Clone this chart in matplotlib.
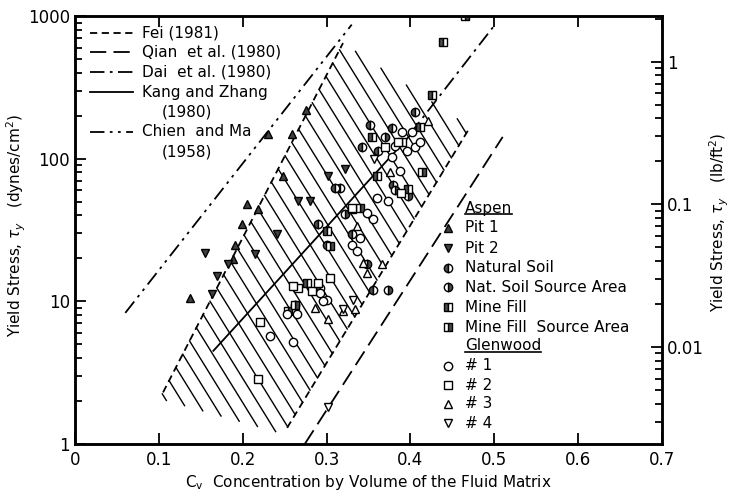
import numpy as np
import matplotlib.pyplot as plt
from matplotlib.lines import Line2D

# reference lines (Cv, yield stress in dynes/cm2)
chien_x = [0.06, 0.33]
chien_y = [8.3, 870]
dai_x = [0.40, 0.4985]
dai_y = [150, 835]
kang_x = [0.165, 0.41]
kang_y = [4.5, 170]
qian_x = [0.274, 0.51]
qian_y = [1.0, 142]
fei_upper_x = [0.105, 0.3196]
fei_upper_y = [2.3, 646]
fei_lower_x = [0.253, 0.471]
fei_lower_y = [1.3, 166]

# Aspen samples
pit1_x = [0.137, 0.188, 0.199, 0.205, 0.218, 0.230, 0.259, 0.248, 0.275, 0.191]
pit1_y = [10.5, 19.8, 34.8, 48, 44.5, 150, 150, 76, 218, 25]
pit2_x = [0.155, 0.163, 0.169, 0.182, 0.215, 0.241, 0.266, 0.280, 0.302, 0.322]
pit2_y = [21.7, 11.2, 15, 18.2, 21.4, 29.6, 50.6, 50.6, 76, 85]
soil_x = [0.352, 0.378, 0.405, 0.342, 0.316, 0.355, 0.310, 0.290, 0.300, 0.292, 0.330, 0.361, 0.379]
soil_y = [171, 163, 211, 120, 62.5, 12, 62.5, 34.8, 25, 12.4, 29.6, 114, 65]
soil_sa_x = [0.373, 0.370, 0.382, 0.397, 0.322, 0.262, 0.348]
soil_sa_y = [12, 143, 60, 55, 41, 9.5, 18.2]
fill_x = [0.439, 0.426, 0.411, 0.397, 0.354, 0.330, 0.277, 0.300, 0.390, 0.360]
fill_y = [656, 278, 166, 61.5, 142, 44.5, 13.4, 31.1, 130, 75]
fill_sa_x = [0.465, 0.414, 0.304, 0.262, 0.254, 0.340]
fill_sa_y = [1000, 80, 24.4, 9.5, 8.5, 45]

# Glenwood samples
g1_x = [0.233, 0.260, 0.253, 0.265, 0.382, 0.396, 0.378, 0.388, 0.402, 0.390,
        0.360, 0.355, 0.348, 0.373, 0.340, 0.330, 0.336, 0.300, 0.292, 0.296, 0.405, 0.411]
g1_y = [5.7, 5.2, 8.2, 8.1, 123, 114, 102, 82, 153, 153,
        53, 37.8, 41.7, 50.6, 27.8, 25, 22.5, 10.3, 11.4, 10, 120, 130]
g2_x = [0.221, 0.218, 0.266, 0.260, 0.283, 0.304, 0.370, 0.385, 0.330, 0.389, 0.290]
g2_y = [7.2, 2.87, 12.4, 12.8, 11.8, 14.5, 120, 130, 45, 57, 13.4]
g3_x = [0.421, 0.376, 0.336, 0.348, 0.366, 0.343, 0.302, 0.320, 0.334, 0.286]
g3_y = [185, 80, 33.7, 15.7, 18.2, 18.5, 7.5, 8.5, 8.8, 9.0]
g4_x = [0.302, 0.331, 0.320, 0.356]
g4_y = [1.82, 10.3, 8.8, 100]

W, H = 735, 499
fig = plt.figure(figsize=(W / 100, H / 100), dpi=100)
ax = fig.add_axes([75 / W, 1 - 444 / H, 587 / W, 428 / H])

FS = 12
LFS = 11
LW = 1.3

def px(x, y):
    return x / W, 1 - y / H

# hatched band between the two Fei lines, cut at top and bottom
ua = np.polyfit(fei_upper_x, np.log10(fei_upper_y), 1)
la = np.polyfit(fei_lower_x, np.log10(fei_lower_y), 1)
top_cut = np.polyfit([fei_upper_x[1], fei_lower_x[1]], np.log10([fei_upper_y[1], fei_lower_y[1]]), 1)
bot_cut = np.polyfit([fei_upper_x[0], fei_lower_x[0]], np.log10([fei_upper_y[0], fei_lower_y[0]]) - 0.05, 1)
m = 9.5

def meet(c, line):
    xx = (c - line[1]) / (m + line[0])
    return xx, c - m * xx

for c in np.arange(1.0, 8.0, 0.17):
    xa, va = meet(c, ua)
    xt, vt = meet(c, top_cut)
    if xt > xa:
        xa, va = xt, vt
    xb, vb = meet(c, la)
    xc, vc = meet(c, bot_cut)
    if xc < xb:
        xb, vb = xc, vc
    if xb > xa:
        ax.plot([xa, xb], [10 ** va, 10 ** vb], color='k', lw=1.0)

ax.plot(fei_upper_x, fei_upper_y, color='k', lw=LW, dashes=(4, 2.5))
ax.plot(fei_lower_x, fei_lower_y, color='k', lw=LW, dashes=(4, 2.5))
ax.plot(qian_x, qian_y, color='k', lw=LW, dashes=(9, 4))
ax.plot(dai_x, dai_y, color='k', lw=LW, dashes=(8, 3, 1.5, 3))
ax.plot(kang_x, kang_y, color='k', lw=LW)
ax.plot(chien_x, chien_y, color='k', lw=LW, dashes=(8, 3, 1.5, 3, 1.5, 3))

ms = 6
mk = dict(color='k', ls='none', ms=ms, mew=1.0)
ax.plot(pit1_x, pit1_y, marker='^', mfc='0.25', **mk)
ax.plot(pit2_x, pit2_y, marker='v', mfc='0.25', **mk)
ax.plot(soil_x, soil_y, marker='o', fillstyle='left', mfc='0.3', mfcalt='w', **mk)
ax.plot(soil_sa_x, soil_sa_y, marker='o', fillstyle='right', mfc='0.3', mfcalt='w', **mk)
ax.plot(fill_x, fill_y, marker='s', fillstyle='left', mfc='0.3', mfcalt='w', **mk)
ax.plot(fill_sa_x, fill_sa_y, marker='s', fillstyle='right', mfc='0.3', mfcalt='w', **mk)
ax.plot(g1_x, g1_y, marker='o', mfc='w', **mk)
ax.plot(g2_x, g2_y, marker='s', mfc='w', **mk)
ax.plot(g3_x, g3_y, marker='^', mfc='w', **mk)
ax.plot(g4_x, g4_y, marker='v', mfc='w', **mk)

ax.set_yscale('log')
ax.set_xlim(0, 0.7)
ax.set_ylim(1, 1000)
ax.set_xticks(np.arange(0, 0.71, 0.1))
ax.set_xticklabels(['0', '0.1', '0.2', '0.3', '0.4', '0.5', '0.6', '0.7'])
ax.set_yticks([1, 10, 100, 1000])
ax.set_yticklabels(['1', '10', '100', '1000'])
ax.tick_params(which='both', direction='in', labelsize=FS, width=1.3, top=True)
ax.tick_params(which='major', length=8)
ax.tick_params(which='minor', length=5)
ax.tick_params(axis='x', pad=5)
for s in ax.spines.values():
    s.set_linewidth(1.8)

conv = 478.8
ax2 = ax.twinx()
ax2.set_yscale('log')
ax2.set_ylim(1 / conv, 1000 / conv)
ax2.set_yticks([0.01, 0.1, 1])
ax2.set_yticklabels(['0.01', '0.1', '1'])
ax2.tick_params(which='both', direction='in', labelsize=FS, width=1.3)
ax2.tick_params(which='major', length=8)
ax2.tick_params(which='minor', length=5)
for s in ax2.spines.values():
    s.set_linewidth(1.8)

# axis titles
fig.text(*px(368, 482), r'C$_\mathrm{v}$  Concentration by Volume of the Fluid Matrix',
         fontsize=LFS, ha='center', va='center')
fig.text(*px(16, 225), r'Yield Stress, $\tau_y$   (dynes/cm$^2$)',
         fontsize=LFS, rotation=90, ha='center', va='center')
fig.text(*px(719, 222), r'Yield Stress, $\tau_y$   (lb/ft$^2$)',
         fontsize=LFS, rotation=90, ha='center', va='center')

# line legend
line_rows = [
    (33, dict(dashes=(4, 2.5)), 'Fei (1981)'),
    (52, dict(dashes=(9, 4)), 'Qian  et al. (1980)'),
    (72, dict(dashes=(8, 3, 1.5, 3)), 'Dai  et al. (1980)'),
    (92, dict(), 'Kang and Zhang'),
    (132, dict(dashes=(8, 3, 1.5, 3, 1.5, 3)), 'Chien  and Ma'),
]
for y, st, lab in line_rows:
    (x0, y0), (x1, _) = px(90, y), px(133, y)
    fig.add_artist(Line2D([x0, x1], [y0, y0], color='k', lw=LW, **st))
    fig.text(*px(142, y), lab, fontsize=LFS, va='center')
fig.text(*px(162, 112), '(1980)', fontsize=LFS, va='center')
fig.text(*px(162, 152), '(1958)', fontsize=LFS, va='center')

# marker legend
mrows = [
    (208, None, 'Aspen'),
    (228, dict(marker='^', mfc='0.25'), 'Pit 1'),
    (248, dict(marker='v', mfc='0.25'), 'Pit 2'),
    (268, dict(marker='o', fillstyle='left', mfc='0.3', mfcalt='w'), 'Natural Soil'),
    (287, dict(marker='o', fillstyle='right', mfc='0.3', mfcalt='w'), 'Nat. Soil Source Area'),
    (307, dict(marker='s', fillstyle='left', mfc='0.3', mfcalt='w'), 'Mine Fill'),
    (327, dict(marker='s', fillstyle='right', mfc='0.3', mfcalt='w'), 'Mine Fill  Source Area'),
    (346, None, 'Glenwood'),
    (366, dict(marker='o', mfc='w'), '# 1'),
    (385, dict(marker='s', mfc='w'), '# 2'),
    (404, dict(marker='^', mfc='w'), '# 3'),
    (423, dict(marker='v', mfc='w'), '# 4'),
]
renderer = fig.canvas.get_renderer()
for y, st, lab in mrows:
    if st is not None:
        x0, y0 = px(448, y)
        fig.add_artist(Line2D([x0], [y0], color='k', ls='none', ms=ms, mew=1.0, **st))
    t = fig.text(*px(465, y), lab, fontsize=LFS, va='center')
    if st is None:
        bb = t.get_window_extent(renderer)
        uy = (bb.y0 + 2) / fig.bbox.height
        fig.add_artist(Line2D([bb.x0 / fig.bbox.width, bb.x1 / fig.bbox.width], [uy, uy],
                              color='k', lw=1.2))

fig.savefig('out.png', dpi=100)
